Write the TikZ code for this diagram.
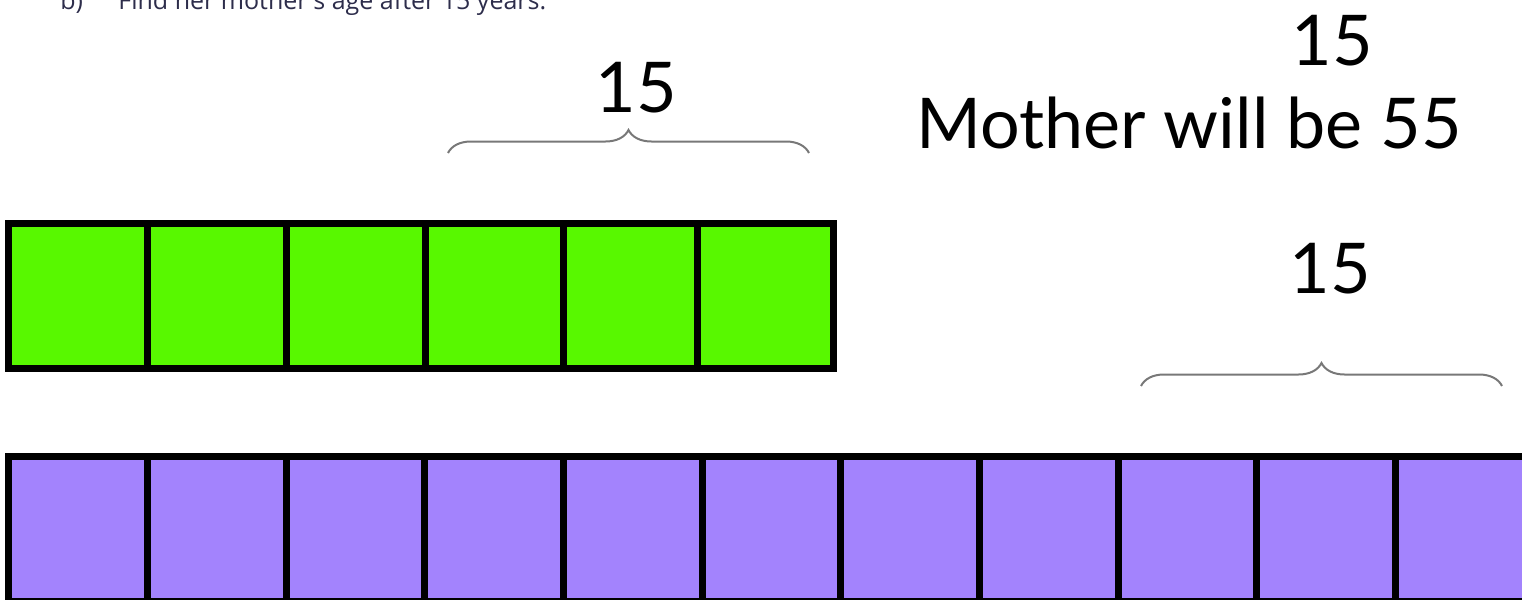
\documentclass[tikz,border=0pt]{standalone}
\usepackage{fontspec}
\newfontfamily\labelfont{Lato}
\newfontfamily\taskfont{Open Sans}
\usetikzlibrary{decorations.pathreplacing}
\definecolor{barGreen}{RGB}{88,248,0}
\definecolor{barPurple}{RGB}{163,131,253}
\definecolor{braceGray}{RGB}{120,120,120}
\definecolor{taskInk}{RGB}{45,45,75}

\begin{document}
\begin{tikzpicture}[x=0.5pt, y=-0.5pt,
  cell/.style={rectangle, draw=black, line width=3.5pt, inner sep=0pt, outer sep=0pt,
               minimum height=72.5pt},
  greencell/.style={cell, fill=barGreen},
  purplecell/.style={cell, fill=barPurple},
  bracket/.style={draw=braceGray, line width=1pt, decorate,
                  decoration={brace, amplitude=11.5pt}},
  count/.style={font=\labelfont\fontsize{35}{40}\selectfont, inner sep=0pt, anchor=base},
  task/.style={font=\taskfont\fontsize{12.5}{14}\selectfont, text=taskInk, inner sep=0pt,
               anchor=base west}
]
\useasboundingbox (0,0) rectangle (1522,600);
\clip (0,0) rectangle (1522,600);

% cut-off question line
\node[task] (qlabel) at (60,9) {b)};
\node[task] (qtext) at (118,9) {Find her mother's age after 15 years.};

% green bar
\foreach \a/\b [count=\i] in {8/147,147/286,286/425,425/563,563/697,697/833}{
  \pgfmathsetmacro{\w}{(\b-\a)*0.5}
  \node[greencell, minimum width=\w pt] (g\i) at ({(\a+\b)/2},295.5) {};
}

% purple bar
\foreach \a/\b [count=\i] in {8/147,147/286,286/424,424/563,563/702,702/840,
                              840/979,979/1118,1118/1256,1256/1395,1395/1534}{
  \pgfmathsetmacro{\w}{(\b-\a)*0.5}
  \node[purplecell, minimum width=\w pt] (p\i) at ({(\a+\b)/2},528.5) {};
}

% braces
\coordinate (gbl) at (448,153);
\coordinate (gbr) at (809,153);
\coordinate (pbl) at (1141,386);
\coordinate (pbr) at (1502,386);
\draw[bracket] (gbl) -- (gbr);
\draw[bracket] (pbl) -- (pbr);

\node[count] (gcount) at (636,112) {15};
\node[count] (pcount) at (1330,293) {15};
\node[count] (topcount) at (1332,65) {15};
\node[count] (result) at (1189,148) {Mother will be 55};
\end{tikzpicture}
\end{document}
